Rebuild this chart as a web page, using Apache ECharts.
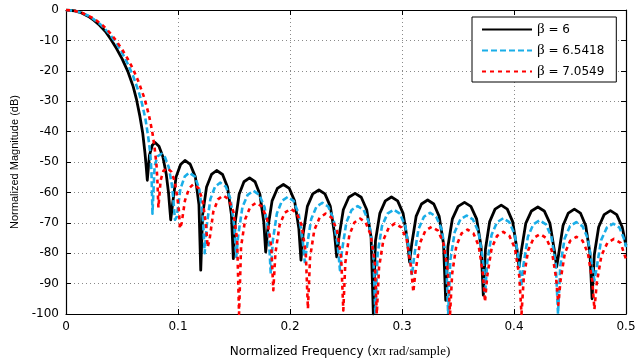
<!DOCTYPE html>
<html>
    <head>
        <meta charset="UTF-8">
        <title>Kaiser窗幅频响应</title>
        <style>
            html, body { margin: 0; padding: 0; background: #fff; }
            #main { width: 644px; height: 363px; }
        </style>
        <script src="https://cdn.jsdelivr.net/npm/echarts@6/dist/echarts.min.js"></script>
    </head>
    <body>
        <div id="main"></div>
        <script type="text/javascript">
            // 图例名称
            var seriesNames = ['β = 6', 'β = 6.5418', 'β = 7.0549'];
            var seriesColors = ['#000000', '#1aaee8', '#ff0000'];
            var xTicks = [0, 0.1, 0.2, 0.3, 0.4, 0.5];
            var yTicks = [-100, -90, -80, -70, -60, -50, -40, -30, -20, -10, 0];

            // β=6  [归一化频率, 幅度dB]
            var beta6 = [
                [0,0],[0.008,-0.3],[0.014,-1],[0.02,-2.1],[0.025,-3.4],[0.03,-5],[0.035,-7],[0.04,-9.6],[0.045,-12.6],[0.05,-16],[0.055,-20],[0.06,-25.2],[0.063,-29.5],[0.066,-35],[0.0685,-40.5],[0.0705,-47],[0.0715,-51],[0.0726,-56],
                [0.0745,-47.8],[0.077,-44.5],[0.0795,-43.6],[0.083,-44.8],[0.0865,-48.3],[0.0895,-54],[0.0915,-60],[0.0935,-69],
                [0.0951,-64],[0.0983,-54.9],[0.1023,-50.8],[0.1062,-49.5],[0.1110,-50.8],[0.1155,-54.9],[0.1187,-64],[0.1203,-85.6],
                [0.1220,-67.3],[0.1255,-58.2],[0.1299,-54.1],[0.1345,-52.8],[0.1398,-54.1],[0.1442,-58.2],[0.1477,-67.3],[0.1494,-81.8],
                [0.1511,-69.7],[0.1546,-60.6],[0.1589,-56.5],[0.1639,-55.2],[0.1688,-56.5],[0.1731,-60.6],[0.1766,-69.7],[0.1783,-79.6],
                [0.1802,-71.9],[0.1840,-62.8],[0.1887,-58.7],[0.1941,-57.4],[0.1994,-58.7],[0.2041,-62.8],[0.2079,-71.9],[0.2098,-82.3],
                [0.2117,-73.7],[0.2155,-64.6],[0.2203,-60.5],[0.2258,-59.2],[0.2312,-60.5],[0.2360,-64.6],[0.2398,-73.7],[0.2417,-81.2],
                [0.2437,-74.8],[0.2476,-65.7],[0.2525,-61.6],[0.2581,-60.3],[0.2636,-61.6],[0.2685,-65.7],[0.2724,-74.8],[0.2744,-100],
                [0.2763,-76],[0.2802,-66.9],[0.2851,-62.8],[0.2906,-61.5],[0.2961,-62.8],[0.3010,-66.9],[0.3049,-76],[0.3068,-82.9],
                [0.3087,-77],[0.3126,-67.9],[0.3174,-63.8],[0.3229,-62.5],[0.3284,-63.8],[0.3332,-67.9],[0.3371,-77],[0.3390,-95.5],
                [0.3410,-77.8],[0.3450,-68.7],[0.3501,-64.6],[0.3558,-63.3],[0.3615,-64.6],[0.3666,-68.7],[0.3706,-77.8],[0.3726,-93.8],
                [0.3745,-78.7],[0.3783,-69.6],[0.3831,-65.5],[0.3886,-64.2],[0.3940,-65.5],[0.3988,-69.6],[0.4026,-78.7],[0.4045,-84.5],
                [0.4065,-79.3],[0.4105,-70.2],[0.4156,-66.1],[0.4213,-64.8],[0.4270,-66.1],[0.4321,-70.2],[0.4361,-79.3],[0.4381,-84.5],
                [0.4400,-80],[0.4438,-70.9],[0.4485,-66.8],[0.4539,-65.5],[0.4593,-66.8],[0.4640,-70.9],[0.4678,-80],[0.4697,-95],
                [0.4717,-80.5],[0.4756,-71.4],[0.4805,-67.3],[0.4861,-66],[0.4917,-67.3],[0.4966,-71.4],[0.5,-77.5]
            ];

            // β=6.5418
            var beta65418 = [
                [0,0],[0.008,-0.3],[0.014,-0.9],[0.02,-1.9],[0.025,-3.1],[0.03,-4.5],[0.035,-6.3],[0.04,-8.4],[0.045,-11],[0.05,-14],[0.055,-17.6],[0.06,-21.8],[0.065,-27],[0.068,-31],[0.071,-36],[0.0735,-42],[0.0752,-47],[0.0763,-53],[0.0772,-67],
                [0.0791,-51.5],[0.0815,-48.2],[0.0852,-47.3],[0.0885,-48.5],[0.0918,-51.8],[0.0945,-57.5],[0.096,-63],[0.0973,-69],
                [0.0989,-68],[0.1021,-58.9],[0.1060,-54.8],[0.1100,-53.5],[0.1151,-54.8],[0.1190,-58.9],[0.1222,-68],[0.1238,-80],
                [0.1255,-71.3],[0.1289,-62.2],[0.1331,-58.1],[0.1376,-56.8],[0.1427,-58.1],[0.1469,-62.2],[0.1503,-71.3],[0.1520,-81.2],
                [0.1538,-74],[0.1575,-64.9],[0.1622,-60.8],[0.1674,-59.5],[0.1726,-60.8],[0.1773,-64.9],[0.1810,-74],[0.1828,-86.7],
                [0.1846,-76],[0.1883,-66.9],[0.1928,-62.8],[0.1980,-61.5],[0.2032,-62.8],[0.2077,-66.9],[0.2114,-76],[0.2132,-82.9],
                [0.2151,-77.9],[0.2189,-68.8],[0.2236,-64.7],[0.2289,-63.4],[0.2342,-64.7],[0.2389,-68.8],[0.2427,-77.9],[0.2446,-85.6],
                [0.2465,-79],[0.2503,-69.9],[0.2550,-65.8],[0.2604,-64.5],[0.2658,-65.8],[0.2705,-69.9],[0.2743,-79],[0.2762,-100],
                [0.2782,-80.2],[0.2821,-71.1],[0.2870,-67],[0.2926,-65.7],[0.2981,-67],[0.3030,-71.1],[0.3069,-80.2],[0.3089,-87.3],
                [0.3108,-81.2],[0.3147,-72.1],[0.3196,-68],[0.3251,-66.7],[0.3305,-68],[0.3354,-72.1],[0.3393,-81.2],[0.3412,-100],
                [0.3432,-82.1],[0.3471,-73],[0.3521,-68.9],[0.3577,-67.6],[0.3633,-68.9],[0.3683,-73],[0.3722,-82.1],[0.3742,-93.3],
                [0.3761,-83],[0.3800,-73.9],[0.3849,-69.8],[0.3904,-68.5],[0.3958,-69.8],[0.4007,-73.9],[0.4046,-83],[0.4065,-91],
                [0.4085,-83.7],[0.4124,-74.6],[0.4173,-70.5],[0.4229,-69.2],[0.4285,-70.5],[0.4334,-74.6],[0.4373,-83.7],[0.4393,-100],
                [0.4413,-84.3],[0.4452,-75.2],[0.4500,-71.1],[0.4556,-69.8],[0.4611,-71.1],[0.4660,-75.2],[0.4699,-84.3],[0.4718,-89],
                [0.4738,-84.8],[0.4778,-75.7],[0.4829,-71.6],[0.4886,-70.3],[0.4942,-71.6],[0.4990,-76],[0.5,-78]
            ];

            // β=7.0549
            var beta70549 = [
                [0,0],[0.008,-0.3],[0.014,-0.9],[0.02,-1.9],[0.025,-2.9],[0.03,-4.2],[0.035,-5.8],[0.04,-7.8],[0.045,-10.2],[0.05,-12.9],[0.055,-16],[0.06,-19.5],[0.065,-23.8],[0.07,-29],[0.074,-34.5],[0.077,-40],[0.079,-45],[0.0808,-51],[0.0816,-56],[0.0825,-65],
                [0.0845,-56],[0.087,-52.9],[0.0905,-52],[0.094,-53.2],[0.0972,-56.5],[0.0995,-62],[0.1008,-66],[0.1018,-71.9],
                [0.1033,-70],[0.1062,-62.7],[0.1100,-58.6],[0.1138,-57.3],[0.1183,-58.6],[0.1221,-62.7],[0.1250,-71],[0.1265,-78],
                [0.1282,-75.5],[0.1315,-66.4],[0.1357,-62.3],[0.1403,-61],[0.1453,-62.3],[0.1495,-66.4],[0.1528,-75.5],[0.1545,-100],
                [0.1563,-77.9],[0.1600,-68.8],[0.1646,-64.7],[0.1698,-63.4],[0.1750,-64.7],[0.1796,-68.8],[0.1833,-77.9],[0.1851,-92.2],
                [0.1870,-79.9],[0.1907,-70.8],[0.1953,-66.7],[0.2006,-65.4],[0.2058,-66.7],[0.2104,-70.8],[0.2141,-79.9],[0.2160,-98.3],
                [0.2179,-81.5],[0.2217,-72.4],[0.2264,-68.3],[0.2318,-67],[0.2372,-68.3],[0.2419,-72.4],[0.2457,-81.5],[0.2476,-98.8],
                [0.2494,-83.1],[0.2530,-74],[0.2575,-69.9],[0.2626,-68.6],[0.2676,-69.9],[0.2721,-74],[0.2757,-83.1],[0.2775,-100],
                [0.2795,-84.7],[0.2834,-75.6],[0.2883,-71.5],[0.2938,-70.2],[0.2993,-71.5],[0.3042,-75.6],[0.3081,-84.7],[0.3101,-92.8],
                [0.3121,-85.8],[0.3160,-76.7],[0.3209,-72.6],[0.3265,-71.3],[0.3321,-72.6],[0.3370,-76.7],[0.3409,-85.8],[0.3429,-100],
                [0.3448,-86.7],[0.3485,-77.6],[0.3532,-73.5],[0.3585,-72.2],[0.3638,-73.5],[0.3685,-77.6],[0.3722,-86.7],[0.3741,-96],
                [0.3761,-87.5],[0.3800,-78.4],[0.3849,-74.3],[0.3904,-73],[0.3959,-74.3],[0.4008,-78.4],[0.4047,-87.5],[0.4067,-100],
                [0.4087,-88.2],[0.4126,-79.1],[0.4176,-75],[0.4232,-73.7],[0.4287,-75],[0.4337,-79.1],[0.4376,-88.2],[0.4396,-97],
                [0.4415,-89.1],[0.4454,-80],[0.4502,-75.9],[0.4557,-74.6],[0.4612,-75.9],[0.4660,-80],[0.4699,-89.1],[0.4718,-98.5],
                [0.4739,-89.8],[0.4781,-80.7],[0.4834,-76.6],[0.4893,-75.3],[0.4952,-76.6],[0.5,-82]
            ];

            var curves = [beta6, beta65418, beta70549];
            var dashes = ['solid', [6, 3], [4, 4]];
            var widths = [2.8, 2.6, 2.6];

            var myChart = echarts.init(document.getElementById('main'), null, {renderer: 'canvas'});

            var axisLineStyle = {color: '#000', width: 1.2};
            var gridLine = {show: true, lineStyle: {color: '#8a8a8a', width: 1, type: [1, 3]}};
            var tickFont = {fontFamily: 'DejaVu Sans', fontSize: 12, color: '#000'};

            var series = [];
            for (var i = 0; i < curves.length; i++) {
                series.push({
                    name: seriesNames[i],
                    type: 'line',
                    data: curves[i],
                    symbol: 'none',
                    showSymbol: false,
                    clip: true,
                    lineStyle: {
                        color: seriesColors[i],
                        width: widths[i],
                        type: dashes[i],
                        join: 'round'
                    },
                    itemStyle: {color: seriesColors[i]},
                    z: 2 + i
                });
            }

            var option = {
                animation: false,
                backgroundColor: '#fff',
                grid: {left: 66, right: 18, top: 10, bottom: 49},
                legend: {
                    data: seriesNames,
                    orient: 'vertical',
                    left: 472,
                    top: 17,
                    itemWidth: 50,
                    itemHeight: 14,
                    itemGap: 6,
                    padding: [5, 12, 3, 9],
                    backgroundColor: '#fff',
                    borderColor: '#000',
                    borderWidth: 1,
                    borderRadius: 0,
                    selectedMode: false,
                    // 图例只画线，不画圆点
                    itemStyle: {opacity: 0},
                    formatter: function (name) {
                        return '{g|β}{t|' + name.slice(1) + '}';
                    },
                    textStyle: {
                        color: '#000',
                        fontFamily: 'DejaVu Sans',
                        fontSize: 12,
                        lineHeight: 14,
                        rich: {
                            g: {fontFamily: 'Liberation Serif', fontSize: 15, lineHeight: 14, color: '#000'},
                            t: {fontFamily: 'DejaVu Sans', fontSize: 12, lineHeight: 14, color: '#000'}
                        }
                    }
                },
                xAxis: [
                    {
                        type: 'value',
                        position: 'bottom',
                        min: xTicks[0],
                        max: xTicks[xTicks.length - 1],
                        interval: 0.1,
                        axisLine: {show: true, onZero: false, lineStyle: axisLineStyle},
                        axisTick: {show: true, inside: true, length: 5, lineStyle: {color: '#000'}},
                        axisLabel: Object.assign({margin: 7}, tickFont),
                        splitLine: gridLine,
                        name: '{s|Normalized Frequency (x}{r|π rad/sample)}',
                        nameLocation: 'middle',
                        nameGap: 31,
                        nameTextStyle: {
                            padding: [0, 12, 0, 0],
                            rich: {
                                s: {fontFamily: 'DejaVu Sans', fontSize: 12, color: '#000'},
                                r: {fontFamily: 'Liberation Serif', fontSize: 13, color: '#000'}
                            }
                        }
                    },
                    {
                        type: 'value',
                        position: 'top',
                        min: xTicks[0],
                        max: xTicks[xTicks.length - 1],
                        interval: 0.1,
                        axisLine: {show: true, onZero: false, lineStyle: axisLineStyle},
                        axisTick: {show: true, inside: true, length: 5, lineStyle: {color: '#000'}},
                        axisLabel: {show: false},
                        splitLine: {show: false}
                    }
                ],
                yAxis: [
                    {
                        type: 'value',
                        position: 'left',
                        min: yTicks[0],
                        max: yTicks[yTicks.length - 1],
                        interval: 10,
                        axisLine: {show: true, onZero: false, lineStyle: axisLineStyle},
                        axisTick: {show: true, inside: true, length: 5, lineStyle: {color: '#000'}},
                        axisLabel: Object.assign({margin: 7}, tickFont),
                        splitLine: gridLine,
                        name: 'Normalized Magnitude (dB)',
                        nameLocation: 'middle',
                        nameGap: 42,
                        nameTextStyle: {fontFamily: 'Liberation Sans', fontSize: 11, color: '#000'}
                    },
                    {
                        type: 'value',
                        position: 'right',
                        min: yTicks[0],
                        max: yTicks[yTicks.length - 1],
                        interval: 10,
                        axisLine: {show: true, onZero: false, lineStyle: axisLineStyle},
                        axisTick: {show: true, inside: true, length: 5, lineStyle: {color: '#000'}},
                        axisLabel: {show: false},
                        splitLine: {show: false}
                    }
                ],
                series: series
            };
            myChart.setOption(option);
        </script>
    </body>
</html>
